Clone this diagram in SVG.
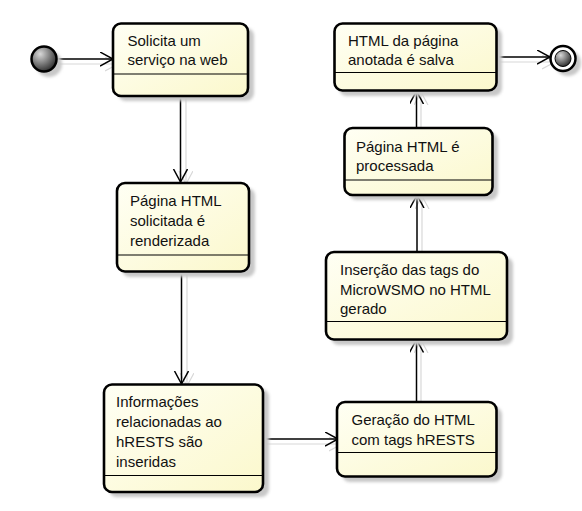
<svg xmlns="http://www.w3.org/2000/svg" width="582" height="511" viewBox="0 0 582 511">
<defs>
<linearGradient id="nodeFill" x1="0" y1="0" x2="1" y2="1">
<stop offset="0" stop-color="#FFFFF4"/>
<stop offset="1" stop-color="#FBF8CC"/>
</linearGradient>
<radialGradient id="ballFill" cx="0.35" cy="0.3" r="0.75">
<stop offset="0" stop-color="#D8D8D8"/>
<stop offset="1" stop-color="#2A2A2A"/>
</radialGradient>
<filter id="blur" x="-20%" y="-20%" width="140%" height="140%">
<feGaussianBlur stdDeviation="1.5"/>
</filter>
<marker id="arr" markerWidth="16" markerHeight="16" refX="13" refY="7" orient="auto" markerUnits="userSpaceOnUse">
<path d="M0,0 L13,7 L0,14" fill="none" stroke="#000" stroke-width="1.5"/>
</marker>
<marker id="arrS" markerWidth="16" markerHeight="16" refX="13" refY="7" orient="auto" markerUnits="userSpaceOnUse">
<path d="M0,0 L13,7 L0,14" fill="none" stroke="#D8D8D8" stroke-width="1.2"/>
</marker>
</defs>
<style>
.shadow{fill:#C8C8C8;filter:url(#blur);}
.box{fill:url(#nodeFill);stroke:#000;stroke-width:2.6;}
.div{stroke:#000;stroke-width:1.2;}
.lbl{font-family:"Liberation Sans",Arial,sans-serif;font-size:15px;fill:#111;}
.edge{fill:none;stroke:#000;stroke-width:1.5;marker-end:url(#arr);}
.edgeS{fill:none;stroke:#D8D8D8;stroke-width:1.2;marker-end:url(#arrS);}
</style>
<rect width="582" height="511" fill="#fff"/>

<g id="connectors">
<line class="edgeS" x1="58" y1="64" x2="118" y2="64"/>
<line class="edgeS" x1="186" y1="98" x2="186" y2="184"/>
<line class="edgeS" x1="187" y1="274" x2="187" y2="386"/>
<line class="edgeS" x1="265" y1="444" x2="342" y2="444"/>
<line class="edgeS" x1="421" y1="404" x2="421" y2="340"/>
<line class="edgeS" x1="422" y1="253" x2="422" y2="196"/>
<line class="edgeS" x1="421" y1="129" x2="421" y2="92"/>
<line class="edgeS" x1="498" y1="62" x2="555" y2="62"/>

<line class="edge" x1="57" y1="59" x2="113" y2="59"/>
<line class="edge" x1="180.5" y1="97" x2="180.5" y2="182"/>
<line class="edge" x1="181.5" y1="273" x2="181.5" y2="384"/>
<line class="edge" x1="264" y1="439" x2="338" y2="439"/>
<line class="edge" x1="416.5" y1="401" x2="416.5" y2="339.5"/>
<line class="edge" x1="417" y1="251" x2="417" y2="195"/>
<line class="edge" x1="416.5" y1="127" x2="416.5" y2="91"/>
<line class="edge" x1="497" y1="57" x2="550" y2="57"/>
</g>

<g id="start">
<circle class="shadow" cx="49" cy="64" r="13"/>
<circle cx="44" cy="59" r="12.5" fill="url(#ballFill)" stroke="#000" stroke-width="2.5"/>
</g>

<g id="end">
<circle class="shadow" cx="568" cy="63" r="13"/>
<circle cx="563" cy="58.5" r="12.5" fill="#fff" stroke="#000" stroke-width="2.5"/>
<circle cx="563" cy="58.5" r="8" fill="url(#ballFill)" stroke="#000" stroke-width="1"/>
</g>

<g id="n1">
<rect class="shadow" x="118" y="28" width="136" height="73" rx="8"/>
<rect class="box" x="113" y="23.5" width="135" height="72.5" rx="8"/>
<line class="div" x1="113" y1="74" x2="248" y2="74"/>
<text class="lbl" x="127.5" y="45.5">Solicita um</text>
<text class="lbl" x="127.5" y="65">serviço na web</text>
</g>

<g id="n2">
<rect class="shadow" x="122" y="188" width="133" height="89" rx="8"/>
<rect class="box" x="117" y="183" width="132" height="88.5" rx="8"/>
<line class="div" x1="117" y1="255" x2="249" y2="255"/>
<text class="lbl" x="130" y="205.5">Página HTML</text>
<text class="lbl" x="130" y="225.5">solicitada é</text>
<text class="lbl" x="130" y="245.5">renderizada</text>
</g>

<g id="n3">
<rect class="shadow" x="109" y="389" width="160" height="108" rx="8"/>
<rect class="box" x="104" y="384.5" width="159" height="107.5" rx="8"/>
<line class="div" x1="104" y1="475.5" x2="263" y2="475.5"/>
<text class="lbl" x="116" y="406.5">Informações</text>
<text class="lbl" x="116" y="426.5">relacionadas ao</text>
<text class="lbl" x="116" y="446.5">hRESTS são</text>
<text class="lbl" x="116" y="466.5">inseridas</text>
</g>

<g id="n4">
<rect class="shadow" x="342" y="407" width="160" height="75" rx="8"/>
<rect class="box" x="337" y="402" width="159.5" height="74.5" rx="8"/>
<line class="div" x1="337" y1="452.5" x2="496.5" y2="452.5"/>
<text class="lbl" x="351.5" y="425">Geração do HTML</text>
<text class="lbl" x="351.5" y="444.5">com tags hRESTS</text>
</g>

<g id="n5">
<rect class="shadow" x="331" y="257" width="182" height="88" rx="8"/>
<rect class="box" x="326" y="252" width="181" height="87.5" rx="8"/>
<line class="div" x1="326" y1="321.5" x2="507" y2="321.5"/>
<text class="lbl" x="340" y="274.5">Inserção das tags do</text>
<text class="lbl" x="340" y="294.5">MicroWSMO no HTML</text>
<text class="lbl" x="340" y="314">gerado</text>
</g>

<g id="n6">
<rect class="shadow" x="349" y="133" width="149" height="67" rx="8"/>
<rect class="box" x="344.5" y="128" width="148" height="67" rx="8"/>
<line class="div" x1="344.5" y1="180" x2="492.5" y2="180"/>
<text class="lbl" x="356" y="151.5">Página HTML é</text>
<text class="lbl" x="356" y="170.5">processada</text>
</g>

<g id="n7">
<rect class="shadow" x="339" y="28" width="163" height="68" rx="8"/>
<rect class="box" x="334.5" y="23.5" width="162" height="67" rx="8"/>
<line class="div" x1="334.5" y1="72.5" x2="496.5" y2="72.5"/>
<text class="lbl" x="348" y="45.5">HTML da página</text>
<text class="lbl" x="348" y="65">anotada é salva</text>
</g>
</svg>
